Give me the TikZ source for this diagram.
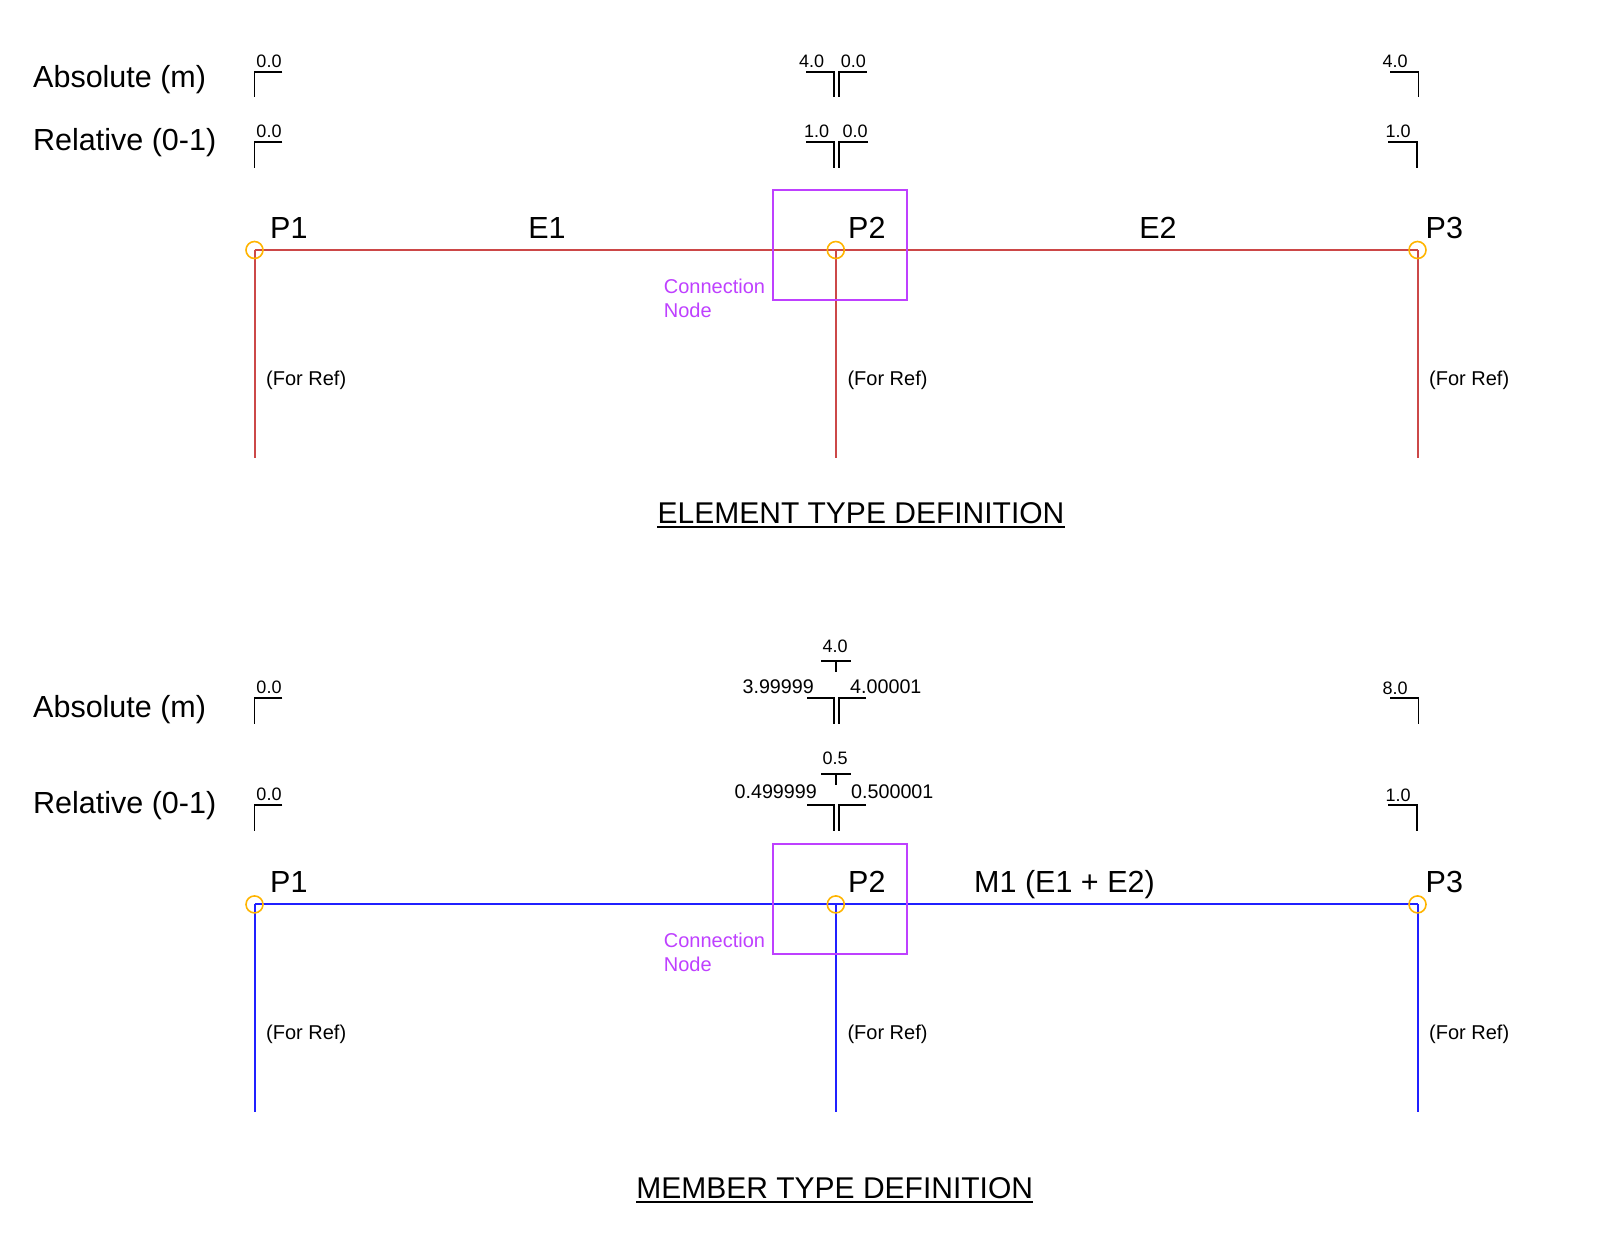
\documentclass[tikz,border=0pt]{standalone}
\usepackage{fontspec}
\setmainfont{Liberation Sans}
\usetikzlibrary{positioning,backgrounds}
\definecolor{elemred}{RGB}{204,72,72}
\definecolor{membblue}{RGB}{32,32,255}
\definecolor{pntorange}{RGB}{255,180,0}
\definecolor{connviolet}{RGB}{190,64,255}
\tikzset{
  pnt/.style={circle, draw=pntorange, line width=1.6pt, minimum size=17pt, inner sep=0pt},
  elemline/.style={elemred, line width=2pt},
  membline/.style={membblue, line width=2pt},
  tick/.style={black, line width=1.8pt},
  connbox/.style={connviolet, line width=1.8pt},
  big/.style={font=\fontsize{30.5}{36}\selectfont, inner sep=0pt},
  ttl/.style={font=\fontsize{30}{36}\selectfont, inner sep=0pt, anchor=base},
  reflbl/.style={font=\fontsize{20}{24}\selectfont, inner sep=0pt, anchor=west},
  connlbl/.style={font=\fontsize{20}{23.7}\selectfont, text=connviolet, inner sep=0pt, anchor=west, align=left},
  dim/.style={font=\fontsize{18}{21}\selectfont, inner sep=0pt, anchor=base},
  dimlong/.style={font=\fontsize{19.7}{23}\selectfont, inner sep=0pt, anchor=base},
}
\begin{document}
\begin{tikzpicture}[x=1pt, y=-1pt]
\useasboundingbox (0,0) rectangle (1616,1243);

% ---- element type definition ----
\node[big, anchor=west] (eabs) at (33,80) {Absolute (m)};
\node[big, anchor=west] (erel) at (33,143) {Relative (0-1)};

\node[dim] (ea1) at (269,67) {0.0};
\draw[tick] (282.3,71.7) -| (254.5,96.7);
\node[dim] (ea2l) at (811.7,67) {4.0};
\node[dim] (ea2r) at (853.3,67) {0.0};
\draw[tick] (806,71.7) -| (834.3,96.7);
\draw[tick] (866.7,71.7) -| (838.7,96.7);
\node[dim] (ea3) at (1395,67) {4.0};
\draw[tick] (1390,71.7) -| (1418.5,96.7);

\node[dim] (er1) at (269,137.5) {0.0};
\draw[tick] (282.3,142.3) -| (254.5,168);
\node[dim] (er2l) at (816.7,137.5) {1.0};
\node[dim] (er2r) at (855,137.5) {0.0};
\draw[tick] (806,142.3) -| (834.3,168);
\draw[tick] (868,142.3) -| (838.7,168);
\node[dim] (er3) at (1398,137.5) {1.0};
\draw[tick] (1388.3,142.3) -| (1416.7,168);

\foreach \n/\x in {1/254.5, 2/835.8, 3/1417.5} {
  \node[pnt] (ep\n) at (\x,250) {};
  \coordinate (ee\n) at (\x,457.5);
  \node[reflbl] (ef\n) at (\x+11.5,380) {(For Ref)};
}
\begin{scope}[on background layer]
  \draw[elemline] (ep1.center) -- (ep2.center) -- (ep3.center);
  \foreach \n in {1,2,3} \draw[elemline] (ep\n.center) -- (ee\n);
\end{scope}

\node[big, anchor=base west] (epl1) at (270,238.5) {P1};
\node[big, anchor=base west] (epl2) at (848,238.5) {P2};
\node[big, anchor=base west] (epl3) at (1425.5,238.5) {P3};
\node[big, anchor=base] (ee1lbl) at (547,238.5) {E1};
\node[big, anchor=base] (ee2lbl) at (1158,238.5) {E2};

\draw[connbox] (772.7,189.6) rectangle (907.3,299.7);
\node[connlbl] (ecn) at (663.7,298) {Connection\\Node};

\node[ttl] (etitle) at (861,523) {ELEMENT TYPE DEFINITION};
\draw[line width=1.5pt] ([yshift=-4pt]etitle.base west) -- ([yshift=-4pt]etitle.base east);

% ---- member type definition ----
\node[big, anchor=west] (mabs) at (33,710) {Absolute (m)};
\node[big, anchor=west] (mrel) at (33,806) {Relative (0-1)};

\node[dim] (ma1) at (269,693.3) {0.0};
\draw[tick] (282.3,698) -| (254.5,723.5);
\node[dim] (ma2) at (835,652.3) {4.0};
\draw[tick] (821,661) -- (851,661);
\draw[tick] (836,661) -- (836,671.5);
\node[dimlong, anchor=base east] (ma2l) at (814,693.3) {3.99999};
\node[dimlong, anchor=base west] (ma2r) at (850,693.3) {4.00001};
\draw[tick] (807,698) -| (834.3,723.5);
\draw[tick] (866,698) -| (838.7,723.5);
\node[dim] (ma3) at (1395,694) {8.0};
\draw[tick] (1390,698.3) -| (1418.5,723.5);

\node[dim] (mr1) at (269,800.5) {0.0};
\draw[tick] (282.3,805) -| (254.5,831);
\node[dim] (mr2) at (835,764.5) {0.5};
\draw[tick] (821,774) -- (851,774);
\draw[tick] (836,774) -- (836,784.5);
\node[dimlong, anchor=base east] (mr2l) at (817,798.5) {0.499999};
\node[dimlong, anchor=base west] (mr2r) at (851,798.5) {0.500001};
\draw[tick] (807,805) -| (834.3,831);
\draw[tick] (866,805) -| (838.7,831);
\node[dim] (mr3) at (1398,801) {1.0};
\draw[tick] (1388.3,805) -| (1416.7,831);

\foreach \n/\x in {1/254.5, 2/835.8, 3/1417.5} {
  \node[pnt] (mp\n) at (\x,904.4) {};
  \coordinate (me\n) at (\x,1112);
  \node[reflbl] (mf\n) at (\x+11.5,1034.6) {(For Ref)};
}
\begin{scope}[on background layer]
  \draw[membline] (mp1.center) -- (mp2.center) -- (mp3.center);
  \foreach \n in {1,2,3} \draw[membline] (mp\n.center) -- (me\n);
\end{scope}

\node[big, anchor=base west] (mpl1) at (270,892.9) {P1};
\node[big, anchor=base west] (mpl2) at (848,892.9) {P2};
\node[big, anchor=base west] (mpl3) at (1425.5,892.9) {P3};
\node[big, anchor=base west] (mm1lbl) at (974,892.9) {M1 (E1 + E2)};

\draw[connbox] (772.7,844) rectangle (907.3,954.1);
\node[connlbl] (mcn) at (663.7,952.4) {Connection\\Node};

\node[ttl] (mtitle) at (834.7,1198) {MEMBER TYPE DEFINITION};
\draw[line width=1.5pt] ([yshift=-4pt]mtitle.base west) -- ([yshift=-4pt]mtitle.base east);
\end{tikzpicture}
\end{document}
